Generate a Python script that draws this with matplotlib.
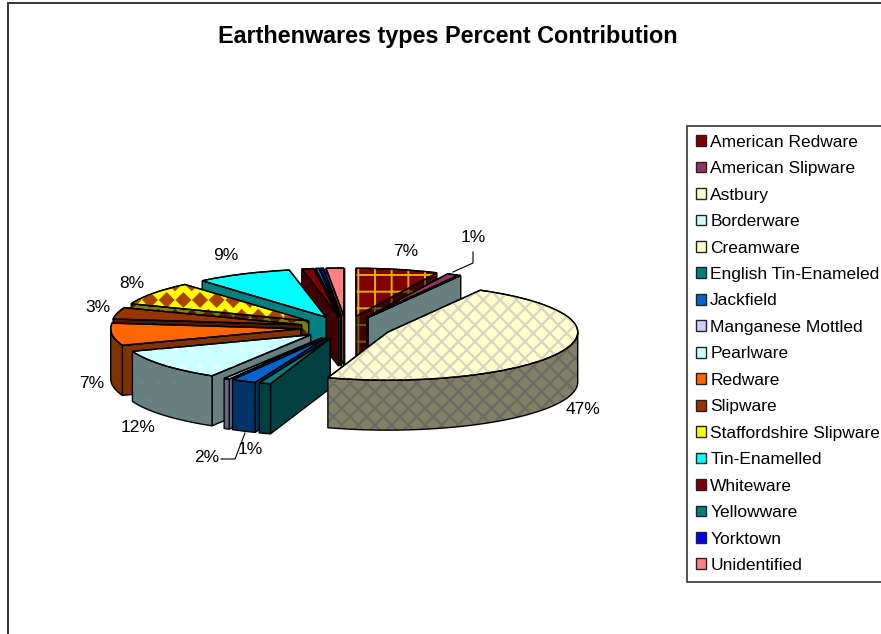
import numpy as np
import matplotlib
matplotlib.use("Agg")
import matplotlib.pyplot as plt
from matplotlib import hatch as mhatch
from matplotlib.colors import to_rgb
from matplotlib.patches import Patch, Polygon, Rectangle, Wedge
from matplotlib.path import Path

W, H = 881, 634
# pie geometry, in pixels
CX, CY, RX, RY, DEPTH = 346, 327.5, 190, 48, 50

categories = ["American Redware", "American Slipware", "Astbury", "Borderware", "Creamware",
              "English Tin-Enameled", "Jackfield", "Manganese Mottled", "Pearlware", "Redware",
              "Slipware", "Staffordshire Slipware", "Tin-Enamelled", "Whiteware", "Yellowware",
              "Yorktown", "Unidentified"]
values = [7, 1, 0.05, 0.05, 47, 1, 2.1, 0.5, 10.7, 7.5, 3.9, 7.9, 8.2, 1, 0.3, 0.3, 1.5]
colors = ["#800000", "#993366", "#ffffcc", "#ccffff", "#ffffcc", "#008080", "#0066cc", "#ccccff",
          "#ccffff", "#ff6600", "#993300", "#ffff00", "#00ffff", "#800000", "#008080", "#0000ff",
          "#ff8080"]
# slice index -> (hatch, hatch colour, hatch line width)
patterns = {0: ("+", "#e0b000", 1.4), 4: ("xx", "#d6d6c4", 1.6), 8: (".", "#e4ffff", 1.0),
            11: ("O", "#a84400", 1.0)}

pct_labels = ["7%", "1%", "47%", "1%", "2%", "12%", "7%", "3%", "8%", "9%"]
pct_xy = [(406, 252), (473, 238), (583, 410), (250, 450), (207, 458), (138, 427), (92, 384),
          (98, 308), (132, 284), (226, 256)]


class Diamonds(mhatch.Shapes):
    # Excel style checker, takes over the "O" hatch letter
    size = 0.42
    filled = True

    def __init__(self, hatch, density):
        self.num_rows = hatch.count("O") * density
        path = Path.unit_regular_polygon(4)
        self.shape_vertices = path.vertices
        self.shape_codes = path.codes
        super().__init__(hatch, density)


mhatch._hatch_types[mhatch._hatch_types.index(mhatch.LargeCircles)] = Diamonds

plt.rcParams["font.family"] = ["Liberation Sans", "DejaVu Sans"]
fig = plt.figure(figsize=(W / 100, H / 100), dpi=100)
ax = fig.add_axes([0, 0, 1, 1])

wedges, _ = ax.pie(values, explode=[0.24] * len(values), startangle=90, counterclock=False,
                   colors=colors, radius=1, wedgeprops=dict(edgecolor="black", linewidth=1))
ax.set_aspect("auto")
ax.set_xlim(-CX / RX, (W - CX) / RX)
ax.set_ylim(-(H - CY) / RY, CY / RY)
ax.set_axis_off()
depth = DEPTH / RY


def shade(color):
    return tuple(c * 0.5 for c in to_rgb(color))


def draw_wall(verts, i, z):
    pat = patterns.get(i)
    ax.add_patch(Polygon(verts, fc=shade(colors[i]), ec="none", zorder=z))
    if pat:
        plt.rcParams["hatch.linewidth"] = pat[2]
        ax.add_patch(Polygon(verts, fc="none", ec=shade(pat[1]), hatch=pat[0], lw=0, zorder=z))
    ax.add_patch(Polygon(verts, fc="none", ec="black", lw=1, zorder=z))


def draw_slice(w, i, z):
    x0, y0 = w.center
    # cut faces first, only the ones turned towards the viewer
    edges = []
    if np.cos(np.radians(w.theta1)) > 0:
        edges.append(w.theta1)
    if np.cos(np.radians(w.theta2)) < 0:
        edges.append(w.theta2)
    for a in edges:
        px = x0 + np.cos(np.radians(a))
        py = y0 + np.sin(np.radians(a))
        draw_wall([(x0, y0), (px, py), (px, py - depth), (x0, y0 - depth)], i, z)
    # outer wall on the front half
    a = np.radians(np.linspace(w.theta1, w.theta2, 120))
    a = a[np.sin(a) < 0]
    if len(a) > 1:
        top = np.column_stack([x0 + np.cos(a), y0 + np.sin(a)])
        bottom = (top - [0, depth])[::-1]
        draw_wall(np.vstack([top, bottom]), i, z)
    # top surface
    w.set_zorder(z + 0.1)
    pat = patterns.get(i)
    if pat:
        plt.rcParams["hatch.linewidth"] = pat[2]
        ax.add_patch(Wedge(w.center, w.r, w.theta1, w.theta2, fc="none", ec=pat[1], hatch=pat[0],
                           lw=0, zorder=z + 0.2))
    ax.add_patch(Wedge(w.center, w.r, w.theta1, w.theta2, fc="none", ec="black", lw=1,
                       zorder=z + 0.3))


# back to front, Creamware sits in front of everything
mids = [np.sin(np.radians((w.theta1 + w.theta2) / 2)) for w in wedges]
order = sorted(range(len(wedges)), key=lambda i: (i == 4, -mids[i]))
for z, i in enumerate(order):
    draw_slice(wedges[i], i, z + 2)

fig.text(448 / W, 1 - 37 / H, "Earthenwares types Percent Contribution", fontsize=16.85,
         weight="bold", ha="center", va="center")

for s, (x, y) in zip(pct_labels, pct_xy):
    fig.text(x / W, 1 - y / H, s, fontsize=12.5, ha="center", va="center")

# leader lines of the two small labels
leader_1 = [(473, 252), (473, 263), (453, 272)]
leader_2 = [(221, 459), (235, 459), (245, 433)]
for pts in (leader_1, leader_2):
    xs, ys = zip(*pts)
    fig.add_artist(plt.Line2D(np.array(xs) / W, 1 - np.array(ys) / H, color="black", lw=0.8))

# chart border, right and bottom run off the image
fig.add_artist(Rectangle((8 / W, -0.1), 1.1, 1 - 3 / H + 0.1, transform=fig.transFigure, fc="none",
                         ec="#333333", lw=1.4))

handles = [Patch(facecolor=c, edgecolor="#222222", linewidth=1) for c in colors]
leg = fig.legend(handles, categories, loc="upper left", bbox_to_anchor=(687 / W, 1 - 126 / H),
                 fontsize=12.5, frameon=True, fancybox=False, edgecolor="#333333", framealpha=1,
                 borderaxespad=0, borderpad=0.5, labelspacing=0.66, handlelength=0.58,
                 handleheight=0.58, handletextpad=0.26)
leg.get_frame().set_linewidth(1.2)

fig.savefig("out.png", dpi=100)
